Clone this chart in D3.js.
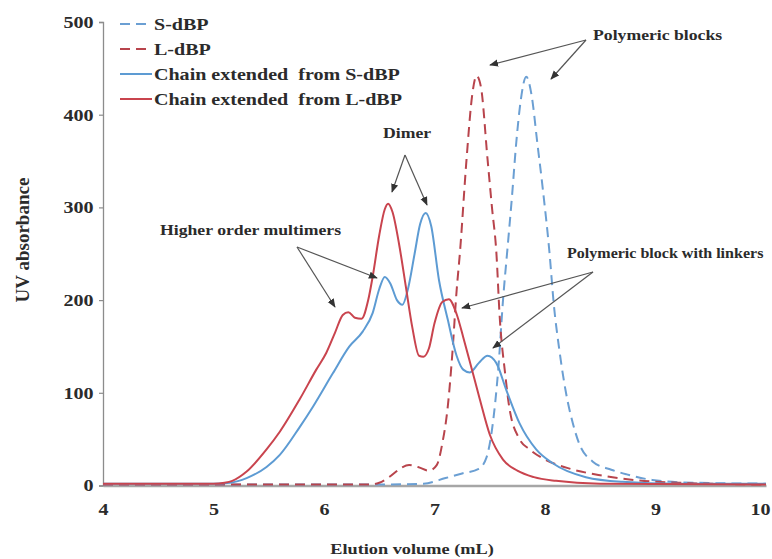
<!DOCTYPE html>
<html>
<head>
<meta charset="utf-8">
<script src="https://cdn.jsdelivr.net/npm/d3@7"></script>
<style>
  body { margin: 0; background: #fff; }
  text { font-family: "Liberation Serif", "Times New Roman", serif; font-weight: bold; fill: #2b2b2b; }
</style>
</head>
<body>
<div id="chart"></div>
<script>
// elution volume (mL) / UV absorbance
const sdbpX = [4, 5, 6, 6.5, 6.9, 7.1, 7.25, 7.4, 7.47, 7.52, 7.58, 7.62, 7.66, 7.7, 7.74, 7.78, 7.83, 7.88, 7.93, 7.98, 8.04, 8.08, 8.13, 8.19, 8.25, 8.31, 8.43, 8.6, 8.74, 8.97, 9.34, 10];
const sdbpY = [1, 1, 1, 1, 2, 8, 13, 18, 30, 60, 130, 200, 255, 310, 370, 415, 441, 420, 370, 320, 252, 195, 146, 100, 68, 45, 26, 17, 12, 6, 3, 2];

const ldbpX = [4, 5, 6, 6.4, 6.5, 6.6, 6.7, 6.77, 6.85, 6.95, 7.02, 7.07, 7.12, 7.16, 7.2, 7.23, 7.29, 7.34, 7.38, 7.42, 7.48, 7.52, 7.56, 7.59, 7.64, 7.68, 7.77, 7.86, 8.0, 8.2, 8.5, 8.8, 9.2, 10];
const ldbpY = [1, 1, 1, 1, 3, 10, 19, 22, 20, 16, 22, 45, 85, 140, 210, 251, 352, 420, 442, 430, 352, 300, 251, 182, 120, 82, 50, 39, 28, 19, 11, 6, 3, 1];

const chainSX = [4, 5, 5.15, 5.3, 5.48, 5.6, 5.78, 5.9, 6.08, 6.23, 6.35, 6.44, 6.5, 6.55, 6.6, 6.66, 6.71, 6.76, 6.82, 6.87, 6.92, 6.97, 7.04, 7.12, 7.2, 7.26, 7.32, 7.4, 7.48, 7.56, 7.65, 7.77, 7.92, 8.07, 8.37, 8.7, 9.2, 10];
const chainSY = [2, 2, 3, 8, 20, 33, 63, 85, 121, 150, 166, 186, 212, 225, 218, 200, 195, 212, 250, 282, 294, 280, 222, 179, 140, 125, 122, 132, 140, 132, 103, 67, 39, 24, 9, 4, 2, 2];

const chainLX = [4, 5, 5.1, 5.17, 5.3, 5.48, 5.6, 5.78, 5.93, 6.02, 6.1, 6.17, 6.22, 6.28, 6.34, 6.4, 6.44, 6.5, 6.55, 6.58, 6.62, 6.68, 6.74, 6.8, 6.86, 6.9, 6.95, 7.0, 7.07, 7.13, 7.2, 7.26, 7.33, 7.41, 7.5, 7.62, 7.75, 7.9, 8.1, 8.5, 10];
const chainLY = [2, 2, 3, 5, 15, 39, 58, 93, 125, 143, 165, 184, 187, 181, 180, 200, 225, 270, 298, 304, 295, 260, 215, 170, 140, 139, 148, 175, 198, 201, 185, 160, 129, 93, 55, 28, 16, 9, 5, 2, 1];

const seriesNames = ['S-dBP', 'L-dBP', 'Chain extended  from S-dBP', 'Chain extended  from L-dBP'];
const seriesColors = ['#6b9fd3', '#b8444c', '#5d9bd3', '#c9444e'];
const seriesDashed = [true, true, false, false];

const xTicks = [4, 5, 6, 7, 8, 9, 10];
const yTicks = [0, 100, 200, 300, 400, 500];

const notes = [
  { text: 'Polymeric blocks', x: 593, y: 40, size: 15, from: [586, 40], to: [[490, 65], [551, 79]] },
  { text: 'Dimer', x: 383, y: 138, size: 15, from: [405, 155], to: [[392, 192], [427, 205]] },
  { text: 'Higher order multimers', x: 160, y: 235, size: 15, from: [297, 247], to: [[335, 307], [377, 278]] },
  { text: 'Polymeric block with linkers', x: 567, y: 258, size: 13.6, from: [593, 272], to: [[462, 308], [493, 348]] }
];

const W = 772, H = 559;
const padL = 103, padR = 766, padT = 22, padB = 485.5;
const SX = 1.18; // the figure's lettering is a bit wide

const svg = d3.select('#chart').append('svg')
  .attr('width', W).attr('height', H);

const x = d3.scaleLinear().domain([4, 10]).range([padL, padR]);
const y = d3.scaleLinear().domain([0, 500]).range([padB, padT]);

// axes
const yAxis = d3.axisLeft(y).tickValues(yTicks).tickSize(4).tickPadding(4);
const gy = svg.append('g').attr('transform', 'translate(' + padL + ',0)').call(yAxis);
gy.select('.domain').attr('stroke', '#8c8c8c').attr('stroke-width', 1.3);
gy.selectAll('.tick line').attr('stroke', '#8c8c8c').attr('stroke-width', 1.2);
gy.selectAll('.tick text')
  .attr('font-size', 17).attr('fill', '#2b2b2b')
  .attr('font-family', '"Liberation Serif", serif')
  .attr('transform', 'scale(' + SX + ',1)');

const xAxis = d3.axisBottom(x).tickValues(xTicks).tickSize(0).tickPadding(17).tickFormat(d3.format('d'));
const gx = svg.append('g').attr('transform', 'translate(0,' + padB + ')').call(xAxis);
gx.select('.domain').attr('stroke', '#a6a6a6').attr('stroke-width', 2.5);
gx.selectAll('.tick text')
  .attr('font-size', 17).attr('fill', '#2b2b2b')
  .attr('font-family', '"Liberation Serif", serif')
  .attr('transform', d => d === 10 ? 'translate(-6,0) scale(' + SX + ',1)' : 'scale(' + SX + ',1)');

svg.append('text')
  .attr('transform', 'translate(412,554) scale(' + SX + ',1)')
  .attr('text-anchor', 'middle')
  .attr('font-size', 15.5)
  .text('Elution volume (mL)');

svg.append('text')
  .attr('transform', 'translate(29,240) rotate(-90)')
  .attr('text-anchor', 'middle')
  .attr('font-size', 19)
  .text('UV absorbance');

// curves
const allX = [sdbpX, ldbpX, chainSX, chainLX];
const allY = [sdbpY, ldbpY, chainSY, chainLY];
const line = d3.line()
  .x(d => x(d[0]))
  .y(d => y(d[1]))
  .curve(d3.curveMonotoneX);

[0, 1, 2, 3].forEach(i => {
  const pts = allX[i].map((v, k) => [v, allY[i][k]]);
  svg.append('path')
    .datum(pts)
    .attr('d', line)
    .attr('fill', 'none')
    .attr('stroke', seriesColors[i])
    .attr('stroke-width', 2)
    .attr('stroke-dasharray', seriesDashed[i] ? '10,6' : null);
});

// legend
const lg = svg.append('g');
seriesNames.forEach((name, i) => {
  const yy = 24 + i * 25;
  lg.append('line')
    .attr('x1', 120).attr('x2', 152)
    .attr('y1', yy).attr('y2', yy)
    .attr('stroke', seriesColors[i])
    .attr('stroke-width', 2)
    .attr('stroke-dasharray', seriesDashed[i] ? '10,6' : null);
  lg.append('text')
    .attr('transform', 'translate(154,' + (yy + 6) + ') scale(' + SX + ',1)')
    .attr('font-size', 17)
    .style('white-space', 'pre')
    .text(name);
});

// annotations with arrows
svg.append('defs').append('marker')
  .attr('id', 'arr')
  .attr('viewBox', '0 0 10 10')
  .attr('refX', 9).attr('refY', 5)
  .attr('markerWidth', 9).attr('markerHeight', 9)
  .attr('markerUnits', 'userSpaceOnUse')
  .attr('orient', 'auto')
  .append('path')
  .attr('d', 'M0,1 L10,5 L0,9 Z')
  .attr('fill', '#333');

notes.forEach(n => {
  svg.append('text')
    .attr('transform', 'translate(' + n.x + ',' + n.y + ') scale(' + SX + ',1)')
    .attr('font-size', n.size)
    .attr('fill', '#3a3a3a')
    .text(n.text);
  n.to.forEach(t => {
    svg.append('line')
      .attr('x1', n.from[0]).attr('y1', n.from[1])
      .attr('x2', t[0]).attr('y2', t[1])
      .attr('stroke', '#555')
      .attr('stroke-width', 1.2)
      .attr('marker-end', 'url(#arr)');
  });
});
</script>
</body>
</html>
